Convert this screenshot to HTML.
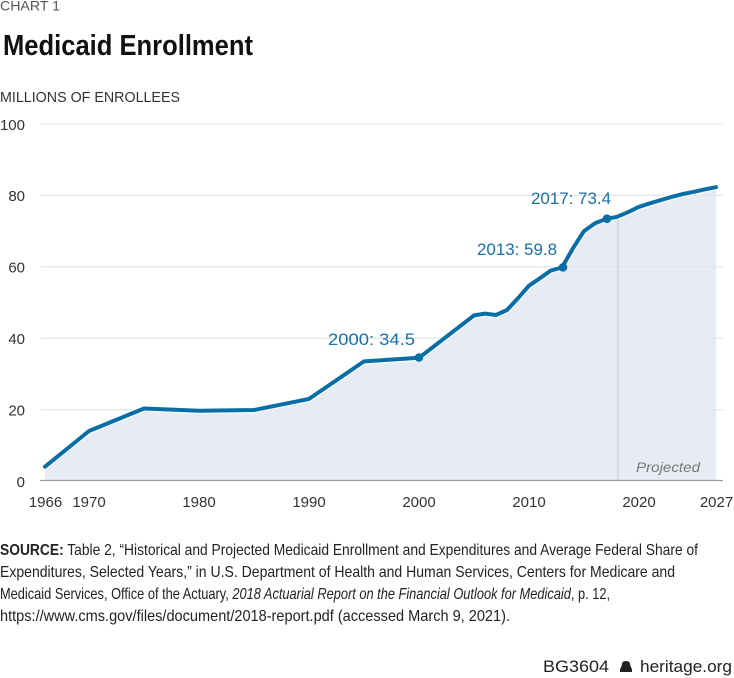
<!DOCTYPE html>
<html><head><meta charset="utf-8"><style>
html,body{margin:0;padding:0;background:#fff;}
svg{display:block;}
text{font-family:"Liberation Sans",sans-serif;}
</style></head><body>
<svg width="734" height="678" viewBox="0 0 734 678" xmlns="http://www.w3.org/2000/svg">
<text x="0" y="10.5" font-size="14" fill="#555" textLength="60" lengthAdjust="spacingAndGlyphs">CHART 1</text>
<text x="3" y="55" font-size="29" font-weight="bold" fill="#111" textLength="250" lengthAdjust="spacingAndGlyphs">Medicaid Enrollment</text>
<text x="0" y="102" font-size="15" fill="#333" textLength="180" lengthAdjust="spacingAndGlyphs">MILLIONS OF ENROLLEES</text>

<!-- gridlines -->
<g stroke="#e6e6e6" stroke-width="1.2">
<line x1="40" y1="124" x2="723" y2="124"/>
<line x1="40" y1="195.4" x2="723" y2="195.4"/>
<line x1="40" y1="266.8" x2="723" y2="266.8"/>
<line x1="40" y1="338.2" x2="723" y2="338.2"/>
<line x1="40" y1="409.6" x2="723" y2="409.6"/>
</g>
<g font-size="15" fill="#333" text-anchor="end">
<text x="25" y="130">100</text>
<text x="25" y="201">80</text>
<text x="25" y="272.5">60</text>
<text x="25" y="344">40</text>
<text x="25" y="415.5">20</text>
<text x="25" y="487">0</text>
</g>

<!-- area -->
<polygon fill="#e6ebf4" points="45,481 45,466.7 89,431 144,408.5 199,410.7 254,410 309,398.9 364,361.4 419,357.8 474,315.4 485,313.6 496,315 507,310 518,298.2 529,285.7 540,278.2 551,270.4 562,267.5 573,248.2 584,231.1 595,223.2 606,219 617,216.8 628,212.2 639,206.8 650,203.3 661,200 672,196.8 683,194 694,191.8 705,189.3 716,187.2 716,481"/>
<g stroke="#d6dbe4" stroke-width="0.8">
<line x1="45" y1="195.4" x2="716" y2="195.4" stroke="#dfe3ea"/>
<line x1="45" y1="266.8" x2="716" y2="266.8" stroke="#dfe3ea"/>
<line x1="45" y1="338.2" x2="716" y2="338.2" stroke="#dfe3ea"/>
<line x1="45" y1="409.6" x2="716" y2="409.6" stroke="#dfe3ea"/>
</g>
<line x1="618" y1="216" x2="618" y2="481" stroke="#c4c9d2" stroke-width="1"/>
<line x1="40" y1="480.5" x2="723" y2="480.5" stroke="#999" stroke-width="1.3"/>

<polyline fill="none" stroke="#fff" stroke-width="6.5" stroke-linejoin="round" stroke-linecap="round" opacity="0.8" points="45,466.7 89,431 144,408.5 199,410.7 254,410 309,398.9 364,361.4 419,357.8 474,315.4 485,313.6 496,315 507,310 518,298.2 529,285.7 540,278.2 551,270.4 562,267.5 573,248.2 584,231.1 595,223.2 606,219 617,216.8 628,212.2 639,206.8 650,203.3 661,200 672,196.8 683,194 694,191.8 705,189.3 716,187.2"/>
<polyline fill="none" stroke="#0a6ea6" stroke-width="4" stroke-linejoin="round" stroke-linecap="round" points="45,466.7 89,431 144,408.5 199,410.7 254,410 309,398.9 364,361.4 419,357.8 474,315.4 485,313.6 496,315 507,310 518,298.2 529,285.7 540,278.2 551,270.4 562,267.5 573,248.2 584,231.1 595,223.2 606,219 617,216.8 628,212.2 639,206.8 650,203.3 661,200 672,196.8 683,194 694,191.8 705,189.3 716,187.2"/>
<g fill="#0a6ea6">
<circle cx="419" cy="357.5" r="4.3"/>
<circle cx="563" cy="267.3" r="4.3"/>
<circle cx="607" cy="218.7" r="4.3"/>
</g>
<g font-size="17" fill="#1a6fa6">
<text x="328" y="345" textLength="87" lengthAdjust="spacingAndGlyphs">2000: 34.5</text>
<text x="477" y="255" textLength="80" lengthAdjust="spacingAndGlyphs">2013: 59.8</text>
<text x="531" y="204" textLength="80" lengthAdjust="spacingAndGlyphs">2017: 73.4</text>
</g>
<text x="636" y="472" font-size="14" font-style="italic" fill="#777" textLength="64" lengthAdjust="spacingAndGlyphs">Projected</text>

<g font-size="15" fill="#333" text-anchor="middle">
<text x="45.5" y="507">1966</text>
<text x="89" y="507">1970</text>
<text x="199" y="507">1980</text>
<text x="309" y="507">1990</text>
<text x="419" y="507">2000</text>
<text x="529" y="507">2010</text>
<text x="639" y="507">2020</text>
<text x="716.5" y="507">2027</text>
</g>

<g font-size="16" fill="#222">
<text x="0" y="555" textLength="698" lengthAdjust="spacingAndGlyphs"><tspan font-weight="bold">SOURCE:</tspan> Table 2, “Historical and Projected Medicaid Enrollment and Expenditures and Average Federal Share of</text>
<text x="0" y="577" textLength="675" lengthAdjust="spacingAndGlyphs">Expenditures, Selected Years,” in U.S. Department of Health and Human Services, Centers for Medicare and</text>
<text x="0" y="599" textLength="610" lengthAdjust="spacingAndGlyphs">Medicaid Services, Office of the Actuary, <tspan font-style="italic">2018 Actuarial Report on the Financial Outlook for Medicaid</tspan>, p. 12,</text>
<text x="0" y="621" textLength="510" lengthAdjust="spacingAndGlyphs">https://www.cms.gov/files/document/2018-report.pdf (accessed March 9, 2021).</text>
</g>

<text x="543" y="672" font-size="17" fill="#222" textLength="66" lengthAdjust="spacingAndGlyphs">BG3604</text>
<g fill="#222">
<path d="M620,672 L620,669 Q621,668 622,664 Q622,661 626,661 Q630,661 630,664 Q631,668 632,669 L632,672 Z"/>
</g>
<text x="640" y="672" font-size="17" fill="#222" textLength="92" lengthAdjust="spacingAndGlyphs">heritage.org</text>
</svg>
</body></html>
